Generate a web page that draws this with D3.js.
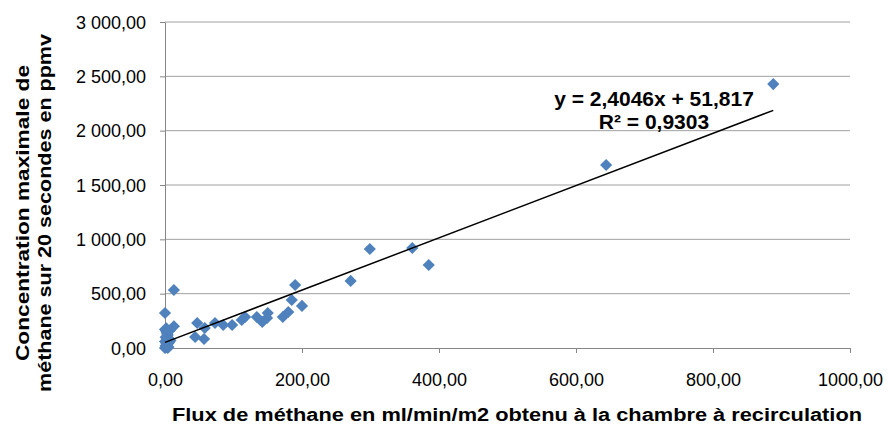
<!DOCTYPE html>
<html>
<head>
<meta charset="utf-8">
<script src="https://cdn.jsdelivr.net/npm/d3@7"></script>
<style>
  body { margin: 0; background: #fff; }
  text { font-family: "Liberation Sans", Arial, sans-serif; }
</style>
</head>
<body>
<svg id="drawing_region"></svg>
<script>
// flux (ml/min/m2) and max concentration (ppmv)
const flux = [0, 1, 2, 0, 3, 1, 4, 2, 0, 5, 6, 3, 8, 2, 1, 3, 5, 7, 4,
    13, 0, 13, 47, 44, 57, 58, 73, 85, 98, 112, 117, 134, 142, 149, 150,
    172, 180, 185, 190, 200, 271, 299, 361, 385, 644, 888];
const concentration = [0, 20, 40, 60, 80, 100, 120, 150, 170, 10, 50, 30, 70, 180, 5, 130, 90, 160, 0,
    534, 322, 200, 230, 101, 83, 184, 230, 212, 212, 258, 285, 285, 239, 276, 322,
    285, 331, 442, 580, 387, 617, 911, 920, 764, 1684, 2429];
const xticks = [0, 200, 400, 600, 800, 1000];
const yticks = [0, 500, 1000, 1500, 2000, 2500, 3000];
const slope = 2.4046, intercept = 51.817;
const eqLines = ["y = 2,4046x + 51,817", "R² = 0,9303"];
const xlabel = "Flux de méthane en ml/min/m2 obtenu à la chambre à recirculation";
const ylabel = ["Concentration maximale  de", "méthane sur 20 secondes en ppmv"];

const config = {
    width: 888,
    height: 425,
    margin: {top: 22, right: 38, bottom: 77, left: 165}
};
const inner_width = config.width - config.margin.left - config.margin.right;
const inner_height = config.height - config.margin.top - config.margin.bottom;

const fr = d3.formatLocale({decimal: ",", thousands: "\u00a0", grouping: [3], currency: ["", ""]});
const yfmt = fr.format(",.2f");
const xfmt = fr.format(".2f");

const svg = d3.select('#drawing_region')
    .attr('width', config.width)
    .attr('height', config.height);
const chart = svg.append('g')
    .attr('transform', `translate(${config.margin.left}, ${config.margin.top})`);

const xscale = d3.scaleLinear().domain([0, 1000]).range([0, inner_width]);
const yscale = d3.scaleLinear().domain([0, 3000]).range([inner_height, 0]);

// horizontal gridlines
chart.append('g').selectAll('line')
    .data(yticks.filter(d => d > 0))
    .join('line')
    .attr('x1', 0).attr('x2', inner_width)
    .attr('y1', d => yscale(d)).attr('y2', d => yscale(d))
    .attr('stroke', '#a0a0a0').attr('stroke-width', 1);

// axes
const xaxis = d3.axisBottom(xscale).tickValues(xticks).tickFormat(xfmt).tickSize(5).tickSizeOuter(0).tickPadding(20);
const yaxis = d3.axisLeft(yscale).tickValues(yticks).tickFormat(yfmt).tickSize(5).tickSizeOuter(0).tickPadding(14);

const xaxis_group = chart.append('g')
    .attr('transform', `translate(0, ${inner_height})`)
    .call(xaxis);
const yaxis_group = chart.append('g').call(yaxis);

[xaxis_group, yaxis_group].forEach(g => {
    g.select('.domain').attr('stroke', '#868686');
    g.selectAll('.tick line').attr('stroke', '#868686');
    g.selectAll('.tick text')
        .attr('fill', '#000')
        .style('font-family', '"Liberation Sans", Arial, sans-serif')
        .style('font-size', '18px');
});
yaxis_group.selectAll('.tick text').attr('dy', '0.35em');

// points
const diamond = d3.symbol().type(d3.symbolSquare).size(74);
chart.append('g').selectAll('path')
    .data(flux.map((f, i) => ({x: f, y: concentration[i]})))
    .join('path')
    .attr('d', diamond)
    .attr('transform', d => `translate(${xscale(d.x)}, ${yscale(d.y)}) rotate(45)`)
    .attr('fill', '#4f81bd');

// linear trend line
const xmin = d3.min(flux), xmax = d3.max(flux);
chart.append('line')
    .attr('x1', xscale(xmin)).attr('y1', yscale(slope * xmin + intercept))
    .attr('x2', xscale(xmax)).attr('y2', yscale(slope * xmax + intercept))
    .attr('stroke', '#000').attr('stroke-width', 1.5);

// equation label
svg.append('g').selectAll('text')
    .data(eqLines)
    .join('text')
    .attr('x', 654)
    .attr('y', (d, i) => 106 + i * 23)
    .attr('text-anchor', 'middle')
    .style('font-size', '21px')
    .style('font-weight', 'bold')
    .text(d => d);

// axis titles
svg.append('text')
    .attr('x', 517)
    .attr('y', 421)
    .attr('text-anchor', 'middle')
    .attr('textLength', 690)
    .attr('lengthAdjust', 'spacingAndGlyphs')
    .style('font-size', '18px')
    .style('font-weight', 'bold')
    .text(xlabel);

const ylens = [296, 358];
svg.append('g').selectAll('text')
    .data(ylabel)
    .join('text')
    .attr('transform', (d, i) => `translate(${29 + i * 22}, 213) rotate(-90)`)
    .attr('text-anchor', 'middle')
    .attr('textLength', (d, i) => ylens[i])
    .attr('lengthAdjust', 'spacingAndGlyphs')
    .style('font-size', '18px')
    .style('font-weight', 'bold')
    .text(d => d);
</script>
</body>
</html>
